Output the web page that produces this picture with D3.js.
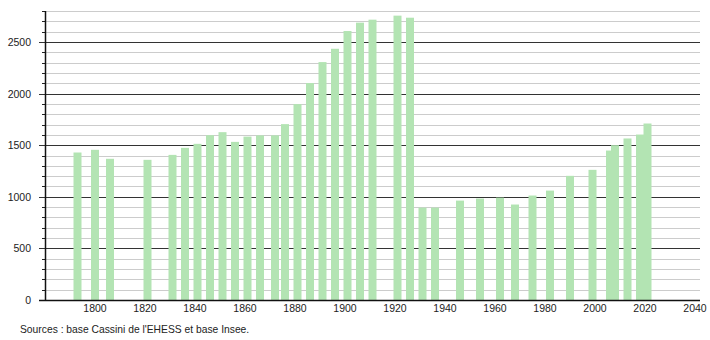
<!DOCTYPE html>
<html>
<head>
<meta charset="utf-8">
<script src="https://cdn.jsdelivr.net/npm/d3@7"></script>
<style>
  body { margin: 0; background: #fff; }
  svg text { font-family: "Liberation Sans", Arial, sans-serif; fill: #222; }
</style>
</head>
<body>
<svg id="chart" width="710" height="340"></svg>
<script>
// Census years and population
const years = [1793, 1800, 1806, 1821, 1831, 1836, 1841, 1846, 1851, 1856,
  1861, 1866, 1872, 1876, 1881, 1886, 1891, 1896, 1901, 1906, 1911, 1921,
  1926, 1931, 1936, 1946, 1954, 1962, 1968, 1975, 1982, 1990, 1999, 2006,
  2008, 2013, 2018, 2021];
const population = [1429, 1455, 1368, 1358, 1406, 1474, 1513, 1597, 1626,
  1532, 1583, 1595, 1595, 1704, 1898, 2102, 2305, 2434, 2606, 2687, 2716,
  2755, 2735, 895, 895, 963, 983, 992, 925, 1012, 1060, 1203, 1261, 1448,
  1500, 1565, 1603, 1710];

const yTicks = [0, 500, 1000, 1500, 2000, 2500];
const xTicks = [1800, 1820, 1840, 1860, 1880, 1900, 1920, 1940, 1960, 1980, 2000, 2020, 2040];
const sourceText = "Sources : base Cassini de l'EHESS et base Insee.";

const BAR_COLOR = "#b3e4b3";
const BAR_WIDTH = 8;

const svg = d3.select("#chart");

const x = d3.scaleLinear().domain([1780, 2042]).range([45, 700]);
const y = d3.scaleLinear().domain([0, 2800]).range([300, 11]);

const data = years.map((yr, i) => ({ year: yr, value: population[i] }));
const minorValues = d3.range(100, 2801, 100).filter((v) => v % 500 !== 0);

// minor grid every 100
const grid = svg.append("g");
grid
  .selectAll("line.minor")
  .data(minorValues)
  .join("line")
  .attr("class", "minor")
  .attr("x1", x.range()[0])
  .attr("x2", x.range()[1])
  .attr("y1", (d) => Math.round(y(d)) + 0.5)
  .attr("y2", (d) => Math.round(y(d)) + 0.5)
  .attr("stroke", "#cccccc")
  .attr("stroke-width", 1);

// minor ticks on the y axis
grid
  .selectAll("line.mtick")
  .data(minorValues)
  .join("line")
  .attr("class", "mtick")
  .attr("x1", x.range()[0] - 3)
  .attr("x2", x.range()[0])
  .attr("y1", (d) => Math.round(y(d)) + 0.5)
  .attr("y2", (d) => Math.round(y(d)) + 0.5)
  .attr("stroke", "#222");

// major grid every 500
grid
  .selectAll("line.major")
  .data(yTicks.filter((v) => v > 0))
  .join("line")
  .attr("class", "major")
  .attr("x1", x.range()[0] - 6)
  .attr("x2", x.range()[1])
  .attr("y1", (d) => Math.round(y(d)) + 0.5)
  .attr("y2", (d) => Math.round(y(d)) + 0.5)
  .attr("stroke", "#333")
  .attr("stroke-width", 1);

// bars
svg
  .append("g")
  .selectAll("rect")
  .data(data)
  .join("rect")
  .attr("x", (d) => x(d.year) - BAR_WIDTH / 2)
  .attr("width", BAR_WIDTH)
  .attr("y", (d) => y(d.value))
  .attr("height", (d) => y(0) - y(d.value))
  .attr("fill", BAR_COLOR);

// axes lines
svg
  .append("line")
  .attr("x1", x.range()[0] + 0.5)
  .attr("x2", x.range()[0] + 0.5)
  .attr("y1", y.range()[1])
  .attr("y2", y(0) + 1)
  .attr("stroke", "#111")
  .attr("stroke-width", 1.5);

svg
  .append("line")
  .attr("x1", x.range()[0] - 6)
  .attr("x2", x.range()[1])
  .attr("y1", y(0) + 0.5)
  .attr("y2", y(0) + 0.5)
  .attr("stroke", "#111")
  .attr("stroke-width", 1.5);

// y labels
svg
  .append("g")
  .selectAll("text")
  .data(yTicks)
  .join("text")
  .attr("x", 31)
  .attr("y", (d) => y(d) + 4)
  .attr("text-anchor", "end")
  .style("font-size", "10.5px")
  .text((d) => d);

// x labels
svg
  .append("g")
  .selectAll("text")
  .data(xTicks)
  .join("text")
  .attr("x", (d) => x(d))
  .attr("y", 312)
  .attr("text-anchor", "middle")
  .style("font-size", "10.5px")
  .text((d) => d);

svg
  .append("text")
  .attr("x", 20)
  .attr("y", 333)
  .style("font-size", "10.3px")
  .text(sourceText);
</script>
</body>
</html>
